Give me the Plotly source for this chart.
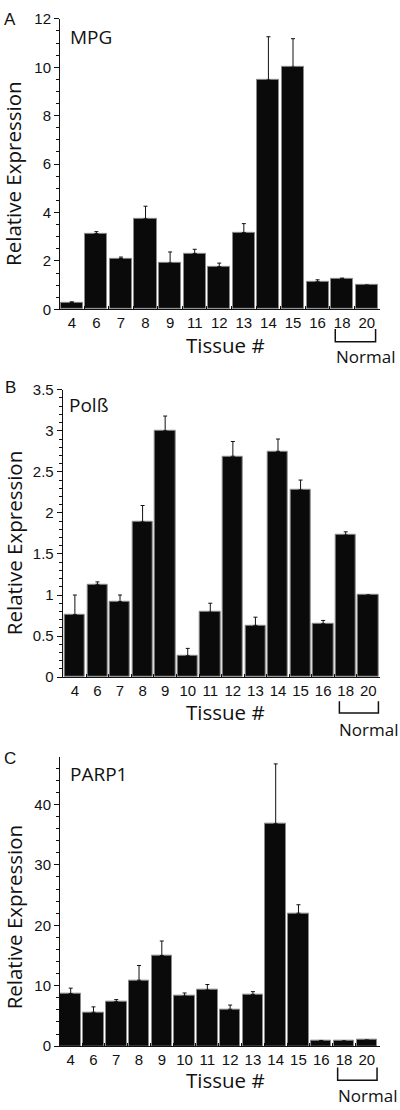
import plotly.graph_objects as go

W, H = 400, 1110

# ---- data ----
tissues_a = ["4", "6", "7", "8", "9", "11", "12", "13", "14", "15", "16", "18", "20"]
mpg_vals = [0.28, 3.13, 2.10, 3.74, 1.91, 2.31, 1.76, 3.17, 9.47, 10.0, 1.14, 1.26, 1.0]
mpg_err = [0.03, 0.08, 0.06, 0.52, 0.46, 0.17, 0.15, 0.37, 1.79, 1.18, 0.08, 0.03, 0.0]

tissues_b = ["4", "6", "7", "8", "9", "10", "11", "12", "13", "14", "15", "16", "18", "20"]
polb_vals = [0.76, 1.13, 0.92, 1.89, 3.0, 0.26, 0.79, 2.69, 0.63, 2.75, 2.28, 0.65, 1.73, 1.0]
polb_err = [0.24, 0.03, 0.08, 0.20, 0.18, 0.09, 0.11, 0.18, 0.10, 0.15, 0.12, 0.04, 0.04, 0.0]

tissues_c = ["4", "6", "7", "8", "9", "10", "11", "12", "13", "14", "15", "16", "18", "20"]
parp_vals = [8.7, 5.6, 7.36, 10.9, 15.0, 8.3, 9.3, 6.1, 8.57, 36.8, 22.0, 0.85, 0.85, 1.0]
parp_err = [0.9, 0.9, 0.35, 2.45, 2.4, 0.5, 0.9, 0.7, 0.45, 9.9, 1.4, 0.1, 0.0, 0.0]

panel_letters = ["A", "B", "C"]
gene_names = ["MPG", "Polß", "PARP1"]
y_title = "Relative Expression"
x_title = "Tissue #"
normal_label = "Normal"

TICK_FONT = dict(family="Liberation Sans, Arial, sans-serif", size=15, color="#111")
TITLE_FAMILY = "Open Sans, Noto Sans, sans-serif"

def py(p):
    return 1 - p / H

panels = [
    dict(tiss=tissues_a, vals=mpg_vals, err=mpg_err, xl=60, xr=380, yt=10, yb=305,
         yr=[0, 12], dt=2, mdt=0.5, xrange=[-0.48, 12.54],
         ytitle=(13.5, 168), tissue=(225, 341), normal=(365, 353), bracket=(325, 338),
         letter=(10, 11), gene=(69, 28)),
    dict(tiss=tissues_b, vals=polb_vals, err=polb_err, xl=62.7, xr=380, yt=386.7, yb=678.5,
         yr=[0, 3.5], dt=0.5, mdt=0.1, xrange=[-0.54, 13.52],
         ytitle=(13.5, 543), tissue=(226, 714), normal=(368, 732), bracket=(703, 715),
         letter=(10, 384), gene=(68, 402)),
    dict(tiss=tissues_c, vals=parp_vals, err=parp_err, xl=60, xr=380, yt=759.3, yb=1053.3,
         yr=[0, 47.9], dt=10, mdt=2, xrange=[-0.47, 13.58],
         ytitle=(13.5, 923), tissue=(226, 1088), normal=(367, 1103), bracket=(1075, 1088),
         letter=(10, 761), gene=(69, 777)),
]

fig = go.Figure()
annotations = []
shapes = []

for i, p in enumerate(panels):
    n = i + 1
    xa = "x" if n == 1 else f"x{n}"
    ya = "y" if n == 1 else f"y{n}"
    xs = list(range(len(p["tiss"])))
    fig.add_trace(go.Bar(
        x=xs, y=p["vals"], xaxis=xa, yaxis=ya, width=0.9,
        marker=dict(color="#0a0a0a", line=dict(color="#8a8a8a", width=1)),
        error_y=dict(type="data", symmetric=False, array=p["err"],
                     arrayminus=[0] * len(p["err"]), color="#111", thickness=1, width=2),
        showlegend=False,
    ))
    xkey = "xaxis" if n == 1 else f"xaxis{n}"
    ykey = "yaxis" if n == 1 else f"yaxis{n}"
    fig.update_layout(**{
        xkey: dict(domain=[p["xl"] / W, p["xr"] / W], anchor=ya, range=p["xrange"],
                   tickmode="array", tickvals=xs, ticktext=p["tiss"], ticks="",
                   showline=True, linecolor="#111", linewidth=1, showgrid=False,
                   zeroline=False, tickfont=TICK_FONT, ticklabelstandoff=0,
                   minor=dict(tickmode="array", tickvals=[k + 0.5 for k in xs[:-1]],
                              ticks="inside", ticklen=3, tickcolor="#111", showgrid=False)),
        ykey: dict(domain=[py(p["yb"]), py(p["yt"])], anchor=xa, range=p["yr"],
                   dtick=p["dt"], tick0=0, ticks="outside", ticklen=5, tickcolor="#111",
                   showline=True, linecolor="#111", linewidth=1, showgrid=False,
                   zeroline=False, tickfont=TICK_FONT,
                   minor=dict(dtick=p["mdt"], tick0=0, ticks="outside", ticklen=3,
                              tickcolor="#111", showgrid=False)),
    })
    annotations.append(dict(text=y_title, x=p["ytitle"][0] / W, y=py(p["ytitle"][1]),
                            xref="paper", yref="paper", textangle=-90, showarrow=False,
                            font=dict(family=TITLE_FAMILY, size=20.5, color="#111"),
                            xanchor="center", yanchor="middle", borderpad=0))
    annotations.append(dict(text=x_title, x=p["tissue"][0] / W, y=py(p["tissue"][1]),
                            xref="paper", yref="paper", showarrow=False,
                            font=dict(family=TITLE_FAMILY, size=20.5, color="#111"),
                            xanchor="center", yanchor="middle", borderpad=0))
    annotations.append(dict(text=normal_label, x=p["normal"][0] / W, y=py(p["normal"][1]),
                            xref="paper", yref="paper", showarrow=False,
                            font=dict(family=TITLE_FAMILY, size=17, color="#111"),
                            xanchor="center", yanchor="middle", borderpad=0))
    annotations.append(dict(text=panel_letters[i], x=p["letter"][0] / W, y=py(p["letter"][1]),
                            xref="paper", yref="paper", showarrow=False,
                            font=dict(family="Liberation Sans, Arial, sans-serif", size=17, color="#111"),
                            xanchor="center", yanchor="middle", borderpad=0))
    annotations.append(dict(text=gene_names[i], x=p["gene"][0] / W, y=py(p["gene"][1]),
                            xref="paper", yref="paper", showarrow=False,
                            font=dict(family=TITLE_FAMILY, size=19, color="#111"),
                            xanchor="left", yanchor="middle", borderpad=0))
    i18 = len(xs) - 2
    i20 = len(xs) - 1
    bx0 = i18 - 0.28
    bx1 = i20 + 0.36 if n == 1 else i20 + 0.45
    bt, bb = py(p["bracket"][0]), py(p["bracket"][1])
    shapes.append(dict(type="path", xref=xa, yref="paper",
                       path=f"M {bx0},{bt} L {bx0},{bb} L {bx1},{bb} L {bx1},{bt}",
                       line=dict(color="#111", width=1.5)))

fig.update_layout(width=W, height=H, margin=dict(l=0, r=0, t=0, b=0),
                  paper_bgcolor="white", plot_bgcolor="white", bargap=0,
                  annotations=annotations, shapes=shapes)

fig.write_html("out.html", config={"displayModeBar": False},
               post_script="document.body.style.margin='0';document.body.style.overflow='hidden';")
